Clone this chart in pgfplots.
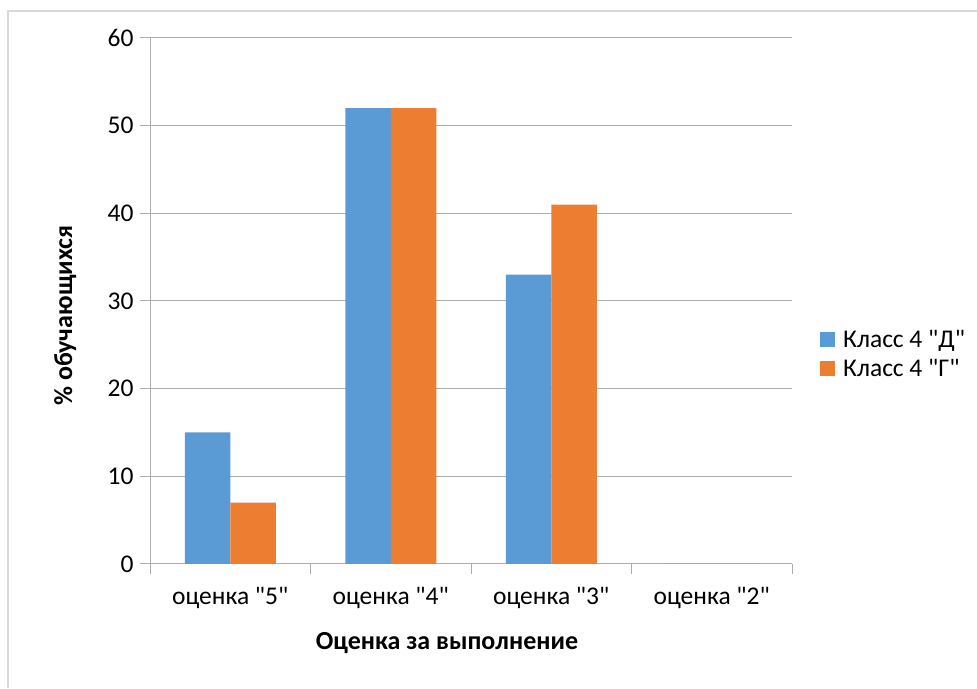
\documentclass[border=0pt]{standalone}
\usepackage{fontspec}
\setmainfont{Carlito}[Ligatures=TeXOff]
\usepackage{pgfplots}
\pgfplotsset{compat=1.18}
\definecolor{cblue}{HTML}{5B9BD5}
\definecolor{corange}{HTML}{ED7D31}
\definecolor{gridc}{HTML}{ADADAD}
\definecolor{framec}{HTML}{D9D9D9}
\newcommand{\cfont}{\fontsize{25.5}{30}\selectfont}
\newcommand{\bfont}{\fontsize{26}{31}\selectfont\bfseries}
\begin{document}
\begin{tikzpicture}[x=1pt,y=1pt]
\useasboundingbox (0,0) rectangle (977,688);
\draw[color=framec, line width=2pt] (8,0) -- (8,677) -- (977,677);
\begin{axis}[
  at={(150pt,124pt)}, anchor=south west,
  scale only axis, width=642pt, height=526pt,
  /pgf/number format/assume math mode=true,
  ymin=0, ymax=60, ytick={0,10,...,60},
  xmin=-0.5, xmax=3.5,
  xtick={0,1,2,3},
  xticklabels={оценка "5", оценка "4", оценка "3", оценка "2"},
  minor xtick={-0.5,0.5,1.5,2.5,3.5},
  x tick style={draw=none},
  minor x tick style={draw=gridc, line width=1pt},
  minor tick length=10pt,
  major tick length=10pt,
  y tick style={draw=gridc, line width=1pt},
  tick align=outside,
  axis lines*=left,
  axis line style={draw=gridc, line width=1pt, -},
  ymajorgrids, grid style={draw=gridc, line width=1pt},
  ybar=0pt, bar width=45.5pt,
  tick label style={font=\cfont, text=black},
  xticklabel style={yshift=-10pt},
  yticklabel style={xshift=-3pt},
  label style={font=\bfont},
  ylabel={\% обучающихся},
  ylabel style={at={(axis description cs:-0.132,0.472)}, anchor=center},
  xlabel={Оценка за выполнение},
  xlabel style={at={(axis description cs:0.4626,-0.150)}, anchor=center},
  legend style={at={(axis description cs:1.0436,0.399)}, anchor=west, draw=none, fill=none, font=\cfont, row sep=6pt, inner sep=0pt,
    /tikz/every odd column/.append style={column sep=6pt}},
  legend cell align=left,
  legend image code/.code={\fill[#1] (0pt,-7.5pt) rectangle (15pt,7.5pt);},
]
\addplot[fill=cblue, draw=none] coordinates {(0,15) (1,52) (2,33) (3,0)};
\addplot[fill=corange, draw=none] coordinates {(0,7) (1,52) (2,41) (3,0)};
\legend{Класс 4 "Д", Класс 4 "Г"}
\end{axis}
\end{tikzpicture}
\end{document}
